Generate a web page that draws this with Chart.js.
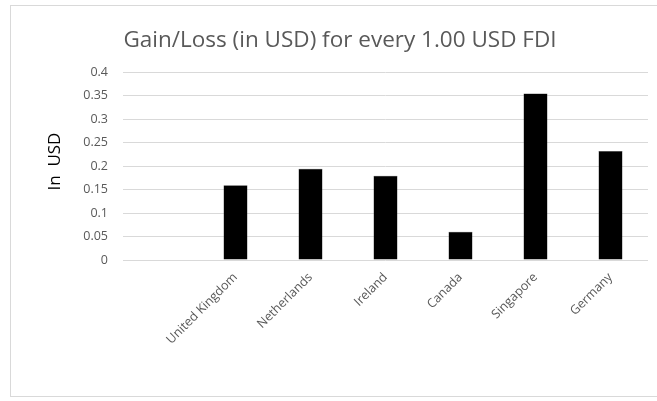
<!DOCTYPE html>
<html>
<head>
<meta charset="utf-8">
<script src="https://cdn.jsdelivr.net/npm/chart.js@4"></script>
<style>
  body { margin: 0; background: #fff; overflow: hidden; }
  #cadre { position: absolute; left: 10px; top: 5px; width: 660px; height: 392px; border: 1.5px solid #d9d9d9; box-sizing: border-box; }
  #zone { position: absolute; left: 0; top: 0; width: 657px; height: 401px; }
</style>
</head>
<body>
<div id="cadre"></div>
<div id="zone"><canvas id="graphique" width="657" height="401"></canvas></div>
<script>
// first slot is left empty, the countries follow
const pays = ['', 'United Kingdom', 'Netherlands', 'Ireland', 'Canada', 'Singapore', 'Germany'];
const gainParDollar = [null, 0.159, 0.194, 0.179, 0.06, 0.354, 0.232];
const graduations = [0, 0.05, 0.1, 0.15, 0.2, 0.25, 0.3, 0.35, 0.4];

const POLICE = "'Open Sans', 'Noto Sans', sans-serif";
const GRIS = '#595959';

new Chart(document.getElementById('graphique'), {
  type: 'bar',
  data: {
    labels: pays,
    datasets: [{
      label: 'Gain/Loss',
      data: gainParDollar,
      backgroundColor: '#000000',
      borderColor: '#3a3a3a',
      borderWidth: 0.5,
      categoryPercentage: 1,
      barPercentage: 0.32,
    }],
  },
  options: {
    responsive: false,
    animation: false,
    layout: { padding: { left: 32, right: 9, top: 0, bottom: 0 } },
    plugins: {
      legend: { display: false },
      tooltip: { enabled: false },
      title: {
        display: true,
        text: 'Gain/Loss (in USD) for every 1.00 USD FDI',
        color: GRIS,
        font: { family: POLICE, size: 22.5, weight: 'normal' },
        padding: { top: 27, bottom: 18 },
      },
    },
    scales: {
      x: {
        grid: { display: false },
        border: { display: false },
        ticks: {
          color: GRIS,
          font: { family: POLICE, size: 12.5 },
          maxRotation: 45,
          minRotation: 45,
          padding: 2,
        },
        afterFit: (echelle) => { echelle.height = 141; },
      },
      y: {
        min: 0,
        max: 0.4,
        afterBuildTicks: (echelle) => {
          echelle.ticks = graduations.map((v) => ({ value: v }));
        },
        grid: { color: '#d9d9d9', lineWidth: 1, drawTicks: false },
        border: { display: false },
        ticks: {
          color: GRIS,
          font: { family: POLICE, size: 12.5 },
          padding: 15,
          callback: (v) => String(Number(v.toFixed(2))),
        },
        title: {
          display: true,
          text: '  In  USD',
          color: '#000000',
          font: { family: POLICE, size: 17 },
          padding: { top: 13, bottom: 0 },
        },
        afterFit: (echelle) => { echelle.width = 91; },
      },
    },
  },
});
</script>
</body>
</html>
